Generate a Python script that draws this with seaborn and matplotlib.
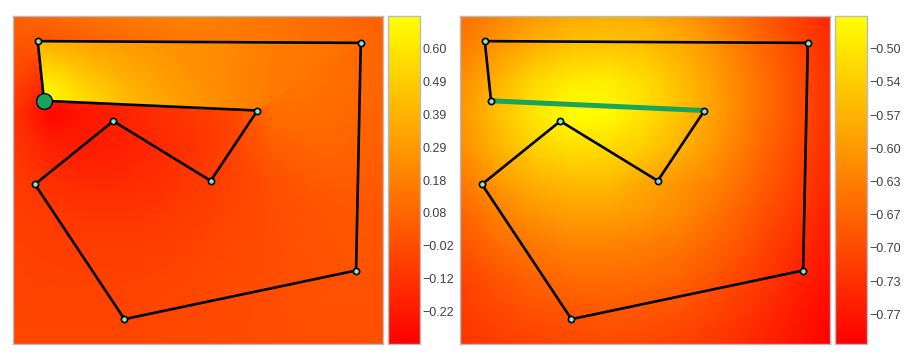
import numpy as np
import pandas as pd
import matplotlib
matplotlib.use('Agg')
import matplotlib.pyplot as plt
import seaborn as sns
from matplotlib.patches import Polygon

sns.set_style('white')
plt.rcParams['font.family'] = ['Liberation Sans', 'DejaVu Sans']

# polygon vertices (data units), walked in order, closed back to the first
vx = [1.22, 9.38, 9.26, 3.41, 1.15, 3.13, 5.59, 6.77, 1.38]
vy = [7.40, 7.36, 2.21, 1.11, 4.16, 5.59, 4.24, 5.83, 6.05]
sel = 8          # the highlighted vertex
sel_next = 7     # other end of the highlighted edge

xlim = (0.596, 9.94)
ylim = (0.547, 7.968)

# left field on an 11 x 11 grid (top row first)
left_base = [
    [0.06, 0.09, 0.13, 0.16, 0.19, 0.20, 0.18, 0.15, 0.12, 0.09, 0.06],
    [0.02, 0.01, 0.05, 0.09, 0.12, 0.15, 0.15, 0.15, 0.13, 0.11, 0.08],
    [-0.04, -0.16, -0.19, -0.16, -0.11, -0.05, 0.01, 0.14, 0.14, 0.12, 0.08],
    [-0.11, -0.29, -0.23, -0.18, -0.13, -0.09, -0.04, 0.12, 0.12, 0.10, 0.07],
    [-0.09, -0.19, -0.21, -0.19, -0.15, -0.11, -0.04, 0.05, 0.08, 0.08, 0.06],
    [-0.08, -0.13, -0.16, -0.15, -0.13, -0.09, -0.05, 0.00, 0.04, 0.05, 0.04],
    [-0.07, -0.09, -0.11, -0.11, -0.10, -0.07, -0.04, -0.01, 0.01, 0.03, 0.02],
    [-0.06, -0.07, -0.08, -0.08, -0.07, -0.05, -0.03, -0.01, 0.01, 0.02, 0.02],
    [-0.05, -0.06, -0.06, -0.06, -0.05, -0.04, -0.02, -0.01, 0.00, 0.01, 0.01],
    [-0.05, -0.05, -0.05, -0.05, -0.04, -0.03, -0.02, -0.01, 0.00, 0.00, 0.00],
    [-0.04, -0.04, -0.04, -0.04, -0.03, -0.03, -0.02, -0.01, -0.01, -0.01, -0.01],
]
# values inside the wedge next to the highlighted vertex (top 5 rows)
left_wedge = [
    [0.41, 0.39, 0.34, 0.31, 0.28, 0.25, 0.22, 0.18, 0.16, 0.13, 0.10],
    [0.43, 0.41, 0.35, 0.31, 0.28, 0.25, 0.22, 0.18, 0.16, 0.13, 0.10],
    [0.60, 0.62, 0.49, 0.39, 0.32, 0.26, 0.21, 0.17, 0.15, 0.13, 0.10],
    [0.70, 0.70, 0.60, 0.46, 0.36, 0.29, 0.22, 0.16, 0.14, 0.12, 0.10],
    [0.70, 0.70, 0.60, 0.46, 0.36, 0.29, 0.22, 0.16, 0.14, 0.12, 0.10],
]
right_field = [
    [-0.657, -0.627, -0.600, -0.580, -0.573, -0.577, -0.600, -0.633, -0.673, -0.713, -0.750],
    [-0.640, -0.600, -0.567, -0.543, -0.537, -0.547, -0.573, -0.613, -0.657, -0.700, -0.740],
    [-0.617, -0.567, -0.520, -0.493, -0.490, -0.513, -0.553, -0.600, -0.647, -0.693, -0.737],
    [-0.607, -0.550, -0.500, -0.467, -0.473, -0.507, -0.550, -0.597, -0.647, -0.693, -0.737],
    [-0.617, -0.567, -0.527, -0.507, -0.513, -0.533, -0.567, -0.610, -0.657, -0.700, -0.743],
    [-0.643, -0.600, -0.567, -0.553, -0.553, -0.580, -0.607, -0.630, -0.670, -0.710, -0.750],
    [-0.670, -0.633, -0.607, -0.593, -0.593, -0.603, -0.623, -0.653, -0.687, -0.723, -0.760],
    [-0.693, -0.663, -0.643, -0.630, -0.630, -0.637, -0.650, -0.673, -0.703, -0.737, -0.770],
    [-0.713, -0.690, -0.670, -0.660, -0.660, -0.663, -0.673, -0.693, -0.720, -0.750, -0.780],
    [-0.723, -0.707, -0.693, -0.687, -0.683, -0.687, -0.697, -0.713, -0.737, -0.763, -0.790],
    [-0.733, -0.723, -0.713, -0.707, -0.703, -0.707, -0.717, -0.730, -0.750, -0.773, -0.800],
]

left_range = (-0.32, 0.70)
right_range = (-0.80, -0.467)
left_ticklabels = ['-0.22', '-0.12', '-0.02', '0.08', '0.18', '0.29', '0.39', '0.49', '0.60']
right_ticklabels = ['-0.77', '-0.73', '-0.70', '-0.67', '-0.63', '-0.60', '-0.57', '-0.54', '-0.50']
left_tickspan = (-0.22, 0.60)
right_tickspan = (-0.77, -0.50)

line_col = 'black'
node_col = '#8fe3c0'
hi_col = '#1aa35a'
frame_col = '#b4bcc4'

fig = plt.figure(figsize=(9.14, 3.6), dpi=100)
ax_l = fig.add_axes([0.0142, 0.0444, 0.4048, 0.9111])
cax_l = fig.add_axes([0.4245, 0.0444, 0.035, 0.9111])
ax_r = fig.add_axes([0.5033, 0.0444, 0.4048, 0.9111])
cax_r = fig.add_axes([0.9136, 0.0444, 0.035, 0.9111])

gx = np.linspace(xlim[0], xlim[1], 11)
gy = np.linspace(ylim[1], ylim[0], 11)
GX, GY = np.meshgrid(gx, gy)

poly = pd.DataFrame({'x': vx + [vx[0]], 'y': vy + [vy[0]]})
nodes = pd.DataFrame({'x': vx, 'y': vy})


def style_axes(ax):
    ax.set_xlim(*xlim)
    ax.set_ylim(*ylim)
    ax.set_xticks(range(1, 10))
    ax.set_yticks(range(1, 8))
    ax.set_xticklabels([])
    ax.set_yticklabels([])
    ax.set_xlabel('')
    ax.set_ylabel('')
    ax.tick_params(direction='in', length=3, width=0.8, color='#444444',
                   top=True, right=True, bottom=True, left=True)
    for s in ax.spines.values():
        s.set_color(frame_col)
        s.set_linewidth(1.0)


def style_cbar(cb, cax, span, labels):
    cb.set_ticks(np.linspace(span[0], span[1], len(labels)))
    cb.set_ticklabels([t.replace('-', '\u2212') for t in labels])
    cax.tick_params(direction='in', length=3, width=0.8, color='#444444',
                    left=True, right=True, labelsize=9, labelcolor='#404040', pad=2)
    cb.outline.set_edgecolor(frame_col)
    cb.outline.set_linewidth(1.0)


# left panel
m = ax_l.pcolormesh(GX, GY, np.array(left_base), shading='gouraud', cmap='autumn',
                    vmin=left_range[0], vmax=left_range[1])
w = ax_l.pcolormesh(GX[:5], GY[:5], np.array(left_wedge), shading='gouraud', cmap='autumn',
                    vmin=left_range[0], vmax=left_range[1])
wedge = Polygon([(vx[i], vy[i]) for i in (0, 1, sel_next, sel)], closed=True,
                transform=ax_l.transData)
w.set_clip_path(wedge)
sns.lineplot(data=poly, x='x', y='y', sort=False, estimator=None, color=line_col,
             lw=1.9, ax=ax_l)
others = nodes.drop(index=sel)
sns.scatterplot(data=others, x='x', y='y', s=20, color=node_col, edgecolor='black',
                linewidth=1.2, ax=ax_l, zorder=5)
sns.scatterplot(data=nodes.loc[[sel]], x='x', y='y', s=130, color=hi_col,
                edgecolor='black', linewidth=1.0, ax=ax_l, zorder=6)
style_axes(ax_l)
cb_l = fig.colorbar(m, cax=cax_l)
style_cbar(cb_l, cax_l, left_tickspan, left_ticklabels)

# right panel
m2 = ax_r.pcolormesh(GX, GY, np.array(right_field), shading='gouraud', cmap='autumn',
                     vmin=right_range[0], vmax=right_range[1])
sns.lineplot(data=poly, x='x', y='y', sort=False, estimator=None, color=line_col,
             lw=1.9, ax=ax_r)
edge = nodes.loc[[sel, sel_next]]
sns.lineplot(data=edge, x='x', y='y', sort=False, estimator=None, color=hi_col,
             lw=3.6, ax=ax_r)
sns.scatterplot(data=nodes, x='x', y='y', s=20, color=node_col, edgecolor='black',
                linewidth=1.2, ax=ax_r, zorder=5)
style_axes(ax_r)
cb_r = fig.colorbar(m2, cax=cax_r)
style_cbar(cb_r, cax_r, right_tickspan, right_ticklabels)

fig.savefig('out.png', dpi=100)
